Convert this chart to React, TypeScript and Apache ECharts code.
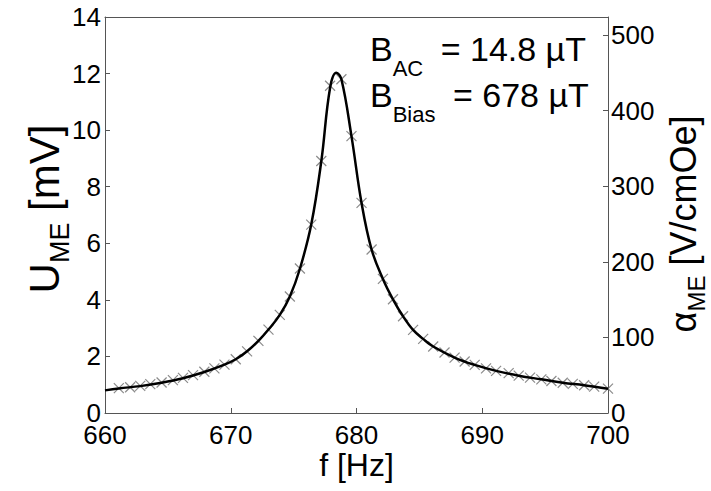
import React, { useEffect, useRef } from "react";
import * as echarts from "echarts";

// Measured points (× markers)
const markerFreq = [661.1, 662.0, 662.8, 663.6, 664.5, 665.4, 666.2, 667.0, 667.9, 668.7, 669.5, 670.4, 671.3, 672.2, 673.0, 673.9, 674.7, 675.5, 676.4, 677.2, 677.9, 678.8, 679.6, 680.4, 681.2, 682.1, 682.9, 683.7, 684.5, 685.3, 686.1, 687.0, 687.8, 688.6, 689.4, 690.3, 691.1, 692.1, 692.9, 693.8, 694.7, 695.5, 696.4, 697.2, 698.1, 698.9, 700.0];
const markerU = [0.88, 0.91, 0.96, 1.02, 1.08, 1.16, 1.24, 1.34, 1.46, 1.58, 1.71, 1.90, 2.18, 2.55, 2.95, 3.47, 4.12, 5.11, 6.66, 8.91, 11.57, 11.80, 9.79, 7.43, 5.78, 4.74, 4.02, 3.42, 2.94, 2.62, 2.35, 2.14, 1.96, 1.82, 1.70, 1.58, 1.49, 1.41, 1.32, 1.25, 1.19, 1.13, 1.07, 1.03, 0.98, 0.93, 0.86];

// Fitted curve (black line)
const curveFreq = [660, 661.1, 662.8, 664.5, 666.2, 667.9, 669.5, 670.4, 671.3, 672.2, 673.0, 673.9, 674.7, 675.5, 676.4, 677.2, 677.9, 678.4, 678.8, 679.6, 680.4, 681.2, 682.1, 682.9, 683.7, 684.5, 685.3, 686.1, 687.8, 689.4, 691.1, 692.9, 694.7, 696.4, 698.1, 700];
const curveU = [0.80, 0.87, 0.95, 1.07, 1.23, 1.45, 1.71, 1.90, 2.18, 2.55, 2.95, 3.47, 4.12, 5.10, 6.66, 8.90, 11.50, 12.03, 11.80, 9.79, 7.43, 5.78, 4.74, 4.02, 3.42, 2.94, 2.62, 2.35, 1.96, 1.70, 1.49, 1.32, 1.19, 1.07, 0.98, 0.86];

const xRange = [660, 700];
const xStep = 10;
const uRange = [0, 14];
const uStep = 2;
const alphaRange = [0, 524];
const alphaStep = 100;

const xName = "f [Hz]";
const uName = ["U", "ME", " [mV]"];
const alphaName = ["α", "ME", " [V/cmOe]"];
const annotation = [
  ["B", "AC", " = 14.8 µT"],
  ["B", "Bias", " = 678 µT"],
];

const FONT = "'Liberation Sans', Arial, Helvetica, sans-serif";
const AXIS_COLOR = "#555555";

function subRich(F: number, f: number, drop: number, extraRight = 0) {
  const baseline = F / 2 + 0.3465 * F;
  const subBaseline = baseline + drop * f;
  const subCenter = subBaseline - 0.3465 * f;
  const pad = Math.max(0, subCenter - f / 2);
  return {
    m: { fontSize: F, lineHeight: F, verticalAlign: "top", fontFamily: FONT, color: "#000" },
    s: { fontSize: f, lineHeight: f, verticalAlign: "top", padding: [pad, extraRight, 0, 0], fontFamily: FONT, color: "#000" },
  };
}

const richText = (parts: string[]) => `{m|${parts[0]}}{s|${parts[1]}}{m|${parts[2]}}`;

export default function App() {
  const ref = useRef<HTMLDivElement>(null);
  useEffect(() => {
    if (!ref.current) return;
    const chart = echarts.init(ref.current, null, { renderer: "svg" });
    const tickLabel = { fontSize: 26, color: "#000", fontFamily: FONT };
    const option: any = {
      animation: false,
      backgroundColor: "#fff",
      grid: { left: 105, right: 103, top: 17, bottom: 78, outerBoundsMode: "none", containLabel: false },
      xAxis: [
        {
          type: "value", position: "bottom", min: xRange[0], max: xRange[1], interval: xStep,
          axisLine: { show: true, lineStyle: { color: AXIS_COLOR, width: 1 } },
          axisTick: { show: true, inside: true, length: 5, lineStyle: { color: AXIS_COLOR } },
          axisLabel: { ...tickLabel, margin: 9 },
          splitLine: { show: false },
          name: xName, nameLocation: "middle", nameGap: 36, nameMoveOverlap: false,
          nameTextStyle: { fontSize: 32, color: "#000", fontFamily: FONT },
        },
        {
          type: "value", position: "top", min: xRange[0], max: xRange[1], interval: xStep,
          axisLine: { show: true, onZero: false, lineStyle: { color: AXIS_COLOR, width: 1 } },
          axisTick: { show: false }, axisLabel: { show: false }, splitLine: { show: false },
        },
      ],
      yAxis: [
        {
          type: "value", position: "left", min: uRange[0], max: uRange[1], interval: uStep,
          axisLine: { show: true, onZero: false, lineStyle: { color: AXIS_COLOR, width: 1 } },
          axisTick: { show: true, inside: true, length: 5, lineStyle: { color: AXIS_COLOR } },
          axisLabel: { ...tickLabel, margin: 4 },
          splitLine: { show: false },
          name: richText(uName), nameLocation: "middle", nameGap: 40, nameMoveOverlap: false,
          nameTextStyle: { fontSize: 42, color: "#000", fontFamily: FONT, rich: subRich(42, 27, 0.4), padding: [0, 0, 0, 12] },
        },
        {
          type: "value", position: "right", min: alphaRange[0], max: alphaRange[1], interval: alphaStep,
          alignTicks: false,
          axisLine: { show: true, onZero: false, lineStyle: { color: AXIS_COLOR, width: 1 } },
          axisTick: { show: true, inside: true, length: 5, lineStyle: { color: AXIS_COLOR } },
          axisLabel: { ...tickLabel, margin: 3, formatter: (v: number) => (v % alphaStep === 0 ? String(v) : "") },
          splitLine: { show: false },
          name: richText(alphaName), nameLocation: "middle", nameGap: 57, nameMoveOverlap: false,
          nameTextStyle: { fontSize: 36, color: "#000", fontFamily: FONT, rich: subRich(36, 24, 0.4), padding: [0, 18, 0, 0] },
        },
      ],
      series: [
        {
          type: "scatter", xAxisIndex: 0, yAxisIndex: 0, z: 2,
          data: markerFreq.map((f, i) => [f, markerU[i]]),
          symbol: "path://M0,0L10,10M10,0L0,10", symbolSize: 10,
          itemStyle: { color: "none", borderColor: "#6e6e6e", borderWidth: 1.2 },
        },
        {
          type: "line", xAxisIndex: 0, yAxisIndex: 0, z: 3,
          data: curveFreq.map((f, i) => [f, curveU[i]]),
          smooth: 0.4, showSymbol: false, symbol: "none",
          lineStyle: { color: "#000", width: 2.5 },
        },
      ],
      graphic: annotation.map((parts, i) => ({
        type: "text", x: 370, y: 32 + i * 46, z: 10,
        style: { text: richText(parts), rich: subRich(34, 22, 0.716, 8), verticalAlign: "top", align: "left" },
      })),
    };
    chart.setOption(option);
    return () => chart.dispose();
  }, []);
  return <div ref={ref} style={{ position: "fixed", left: 0, top: 0, width: 711, height: 491, background: "#fff" }} />;
}
